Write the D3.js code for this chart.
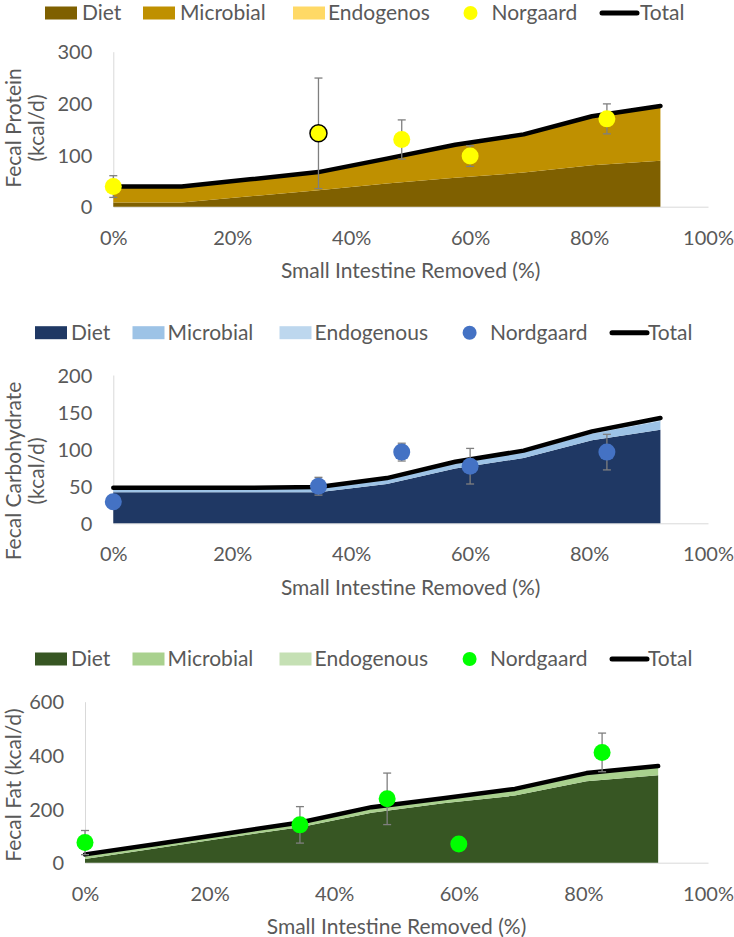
<!DOCTYPE html>
<html>
<head>
<meta charset="utf-8">
<script src="https://cdn.jsdelivr.net/npm/d3@7/dist/d3.min.js"></script>
<style>
    body { margin: 0; background: #fff; }
    text { font-family: Lato, sans-serif; font-size: 21px; fill: #595959; }
    .tick text { font-size: 20px; }
</style>
</head>
<body>
<div id="chart-area"></div>
<script>
// Share of small intestine removed, for the modelled curves and the Nordgaard points
const xPct = [0, 11.5, 23, 34.5, 46, 57.5, 69, 80.5, 92];
const nordPct = [0, 34.5, 48.5, 60, 83];
const xTicks = [0, 20, 40, 60, 80, 100];

// Fecal protein (kcal/d)
const proteinDiet = [8, 8, 20, 32, 45, 56, 66, 80, 89];
const proteinMicrobial = [29, 29, 31, 33, 46, 62, 72, 93, 104];
const proteinEndogenous = [2, 2, 2, 2, 2, 2, 2, 2, 2];
const proteinNord = [39, 142, 130, 98, 170];
const proteinNordErr = [21, 107, 38, 20, 29];
const proteinTicks = [0, 100, 200, 300];

// Fecal carbohydrate (kcal/d)
const carbDiet = [42, 42, 42, 42, 53, 74, 88, 112, 126];
const carbMicrobial = [5, 5, 5, 6, 7, 7, 8, 9, 12];
const carbEndogenous = [1, 1, 1, 1, 1, 2, 2, 3, 4];
const carbNord = [29, 50, 96, 77, 96];
const carbNordErr = [0, 12, 12, 24, 24];
const carbTicks = [0, 50, 100, 150, 200];

// Fecal fat (kcal/d)
const fatDiet = [14, 54, 94, 132, 186, 222, 250, 304, 326];
const fatMicrobial = [14, 13, 13, 15, 18, 14, 21, 25, 29];
const fatEndogenous = [3, 3, 3, 3, 3, 4, 4, 5, 5];
const fatNord = [75, 141, 238, 70, 411];
const fatNordErr = [45, 68, 96, 0, 72];
const fatTicks = [0, 200, 400, 600];

const legendProtein = ['Diet', 'Microbial', 'Endogenos', 'Norgaard', 'Total'];
const legendOther = ['Diet', 'Microbial', 'Endogenous', 'Nordgaard', 'Total'];

const panels = [
    {
        diet: proteinDiet, microbial: proteinMicrobial, endogenous: proteinEndogenous,
        nord: proteinNord, nordErr: proteinNordErr, ticks: proteinTicks,
        labels: legendProtein, title: ['Fecal Protein', '(kcal/d)'],
        colors: ['#7F6000', '#BF9000', '#FFD966'], dot: '#FFFF00', outlined: 1,
        left: 113.3, right: 708, top: 51.7, base: 206.7,
        titleX: [14, 37], titleY: 128, legendY: 13,
        swatchX: [45, 143, 293], dotX: 470.5, lineX: [602, 637],
        textX: [82, 180, 328, 491.5, 640]
    },
    {
        diet: carbDiet, microbial: carbMicrobial, endogenous: carbEndogenous,
        nord: carbNord, nordErr: carbNordErr, ticks: carbTicks,
        labels: legendOther, title: ['Fecal Carbohydrate', '(kcal/d)'],
        colors: ['#1F3864', '#9DC3E6', '#BDD7EE'], dot: '#4472C4', outlined: -1,
        left: 113.3, right: 708, top: 375, base: 523.3,
        titleX: [14, 37], titleY: 471, legendY: 332.7,
        swatchX: [35, 132.5, 279.5], dotX: 469.6, lineX: [612, 647],
        textX: [71, 167.6, 314.6, 490, 648]
    },
    {
        diet: fatDiet, microbial: fatMicrobial, endogenous: fatEndogenous,
        nord: fatNord, nordErr: fatNordErr, ticks: fatTicks,
        labels: legendOther, title: ['Fecal Fat (kcal/d)'],
        colors: ['#375623', '#A9D18E', '#C5E0B4'], dot: '#00FF00', outlined: -1,
        left: 85, right: 708, top: 701.7, base: 862.7,
        titleX: [14], titleY: 785, legendY: 659,
        swatchX: [35, 132.5, 279.5], dotX: 469.6, lineX: [612, 647],
        textX: [71, 167.6, 314.6, 490, 648]
    }
];

const svg = d3.select('#chart-area')
    .append('svg')
    .attr('width', 734)
    .attr('height', 937);

panels.forEach(p => {
    const g = svg.append('g');

    const xScale = d3.scaleLinear().domain([0, 100]).range([p.left, p.right]);
    const yScale = d3.scaleLinear().domain([0, d3.max(p.ticks)]).range([p.base, p.top]);

    // Y axis
    const yAxis = g.append('g')
        .attr('transform', `translate(${p.left}, 0)`)
        .call(d3.axisLeft(yScale).tickValues(p.ticks).tickSize(0).tickSizeOuter(0).tickPadding(21));
    yAxis.select('.domain').attr('stroke', '#D9D9D9');
    yAxis.selectAll('text').attr('dy', '0.35em');

    // X axis
    const xAxis = g.append('g')
        .attr('transform', `translate(0, ${p.base})`)
        .call(d3.axisBottom(xScale).tickValues(xTicks).tickFormat(d => d + '%').tickSize(0).tickSizeOuter(0));
    xAxis.select('.domain').attr('stroke', '#D9D9D9');
    xAxis.selectAll('text').attr('y', 31).attr('dy', '0.35em');

    g.append('text')
        .attr('x', (p.left + p.right) / 2)
        .attr('y', p.base + 64)
        .attr('dy', '0.35em')
        .attr('text-anchor', 'middle')
        .text('Small Intestine Removed (%)');

    p.title.forEach((t, i) => {
        g.append('text')
            .attr('transform', `translate(${p.titleX[i]}, ${p.titleY}) rotate(-90)`)
            .attr('dy', '0.35em')
            .attr('text-anchor', 'middle')
            .text(t);
    });

    // Stacked areas
    const rows = xPct.map((v, i) => ({
        pct: v, diet: p.diet[i], microbial: p.microbial[i], endogenous: p.endogenous[i]
    }));
    const stacked = d3.stack().keys(['diet', 'microbial', 'endogenous'])(rows);

    const area = d3.area()
        .x(d => xScale(d.data.pct))
        .y0(d => yScale(d[0]))
        .y1(d => yScale(d[1]));

    g.selectAll('path.layer')
        .data(stacked)
        .enter()
        .append('path')
        .attr('class', 'layer')
        .attr('d', area)
        .attr('fill', (d, i) => p.colors[i]);

    // Total line
    const line = d3.line()
        .x(d => xScale(d.data.pct))
        .y(d => yScale(d[1]));

    g.append('path')
        .attr('d', line(stacked[2]))
        .attr('fill', 'none')
        .attr('stroke', '#000')
        .attr('stroke-width', 4.5)
        .attr('stroke-linejoin', 'round')
        .attr('stroke-linecap', 'round');

    // Nordgaard points with error bars
    const pts = nordPct.map((v, i) => ({pct: v, val: p.nord[i], err: p.nordErr[i], i: i}));
    const bars = g.selectAll('g.err')
        .data(pts.filter(d => d.err > 0))
        .enter()
        .append('g')
        .attr('class', 'err')
        .attr('stroke', '#7F7F7F')
        .attr('stroke-width', 1.3);
    bars.append('line')
        .attr('x1', d => xScale(d.pct)).attr('x2', d => xScale(d.pct))
        .attr('y1', d => yScale(d.val - d.err)).attr('y2', d => yScale(d.val + d.err));
    [-1, 1].forEach(s => {
        bars.append('line')
            .attr('x1', d => xScale(d.pct) - 4).attr('x2', d => xScale(d.pct) + 4)
            .attr('y1', d => yScale(d.val + s * d.err)).attr('y2', d => yScale(d.val + s * d.err));
    });

    g.selectAll('circle.nord')
        .data(pts)
        .enter()
        .append('circle')
        .attr('class', 'nord')
        .attr('cx', d => xScale(d.pct))
        .attr('cy', d => yScale(d.val))
        .attr('r', 8.5)
        .attr('fill', p.dot)
        .attr('stroke', d => d.i === p.outlined ? '#000' : 'none')
        .attr('stroke-width', 1.5);

    // Legend
    const ly = p.legendY;
    p.swatchX.forEach((sx, i) => {
        g.append('rect')
            .attr('x', sx).attr('y', ly - 6.5)
            .attr('width', 32).attr('height', 13)
            .attr('fill', p.colors[i]);
    });
    g.append('circle')
        .attr('cx', p.dotX).attr('cy', ly)
        .attr('r', 7).attr('fill', p.dot);
    g.append('line')
        .attr('x1', p.lineX[0]).attr('x2', p.lineX[1])
        .attr('y1', ly).attr('y2', ly)
        .attr('stroke', '#000').attr('stroke-width', 5)
        .attr('stroke-linecap', 'round');
    p.labels.forEach((t, i) => {
        g.append('text')
            .attr('x', p.textX[i]).attr('y', ly)
            .attr('dy', '0.35em')
            .text(t);
    });
});
</script>
</body>
</html>
